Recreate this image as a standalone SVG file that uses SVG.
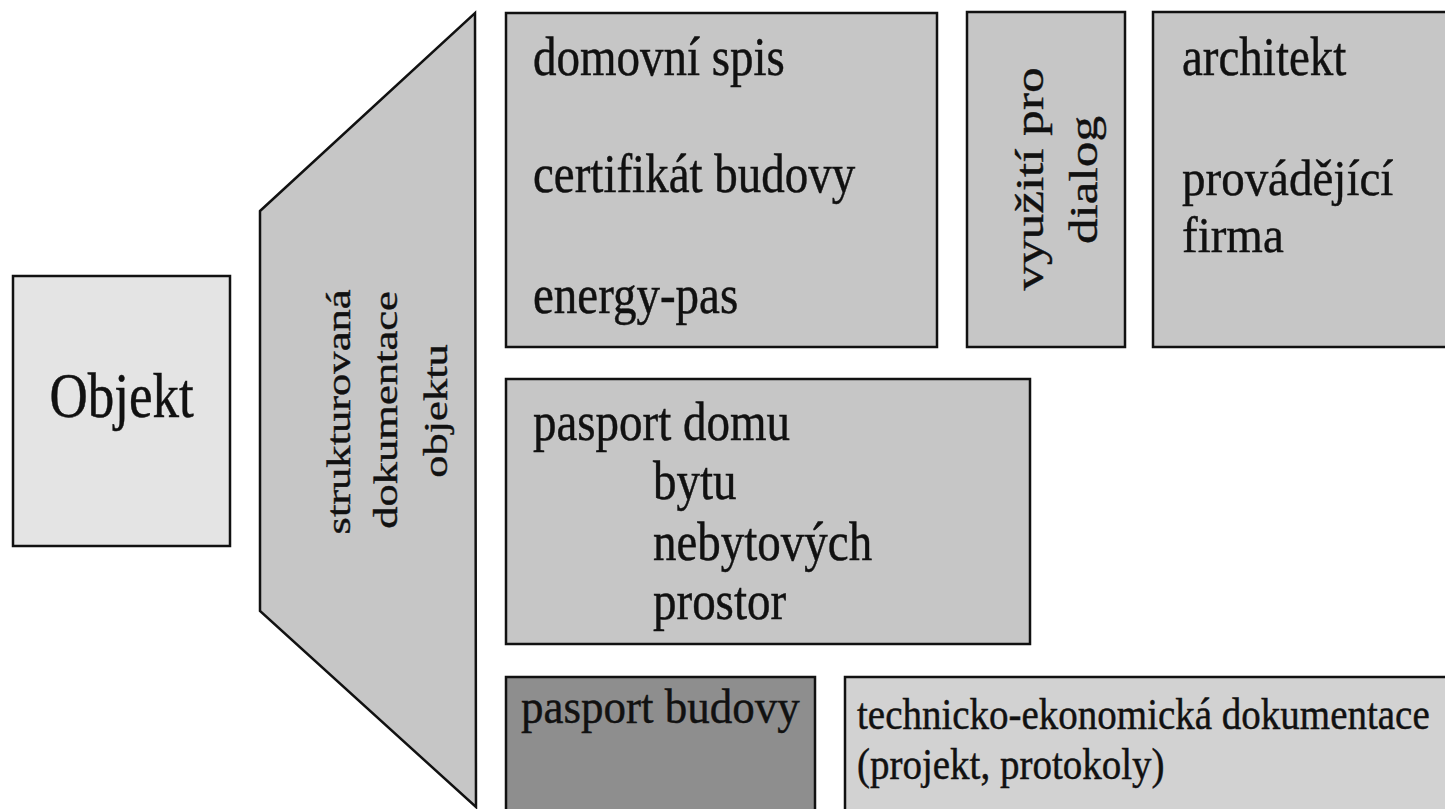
<svg xmlns="http://www.w3.org/2000/svg" width="1445" height="809" viewBox="0 0 1445 809">
<style>
.box{stroke:#111;stroke-width:2.5;}
.mid{fill:#c6c6c6;}
.light{fill:#e4e4e4;}
.tech{fill:#d2d2d2;}
.dark{fill:#8e8e8e;}
text{font-family:"Liberation Serif","Times New Roman",serif;fill:#111;stroke:#111;stroke-width:0.4;}
.t47{font-size:47px;}
</style>
<rect width="1445" height="809" fill="#fff"/>
<g id="objekt">
<rect class="box light" x="13" y="276" width="217" height="270"/>
<text transform="translate(121.5,417) scale(1,1.19)" font-size="53" text-anchor="middle">Objekt</text>
</g>
<g id="strukturovana-dokumentace">
<polygon class="box mid" points="260,211 475,13 476,807 260,611"/>
<text transform="translate(350,412) rotate(-90) scale(1.35,1)" font-size="33" text-anchor="middle">strukturovaná</text>
<text transform="translate(397,410) rotate(-90) scale(1.35,1)" font-size="33" text-anchor="middle">dokumentace</text>
<text transform="translate(447,411) rotate(-90) scale(1.35,1)" font-size="33" text-anchor="middle">objektu</text>
</g>
<g id="domovni-spis">
<rect class="box mid" x="506" y="13" width="431" height="334"/>
<text class="t47" transform="translate(533,75) scale(1,1.15)">domovní spis</text>
<text class="t47" transform="translate(533,192) scale(1,1.15)">certifikát budovy</text>
<text class="t47" transform="translate(533,313) scale(1,1.15)">energy-pas</text>
</g>
<g id="vyuziti-pro-dialog">
<rect class="box mid" x="967" y="12" width="158" height="335"/>
<text transform="translate(1043,179) rotate(-90) scale(1.28,1)" font-size="40" text-anchor="middle">využití pro</text>
<text transform="translate(1097,180) rotate(-90) scale(1.28,1)" font-size="40" text-anchor="middle">dialog</text>
</g>
<g id="architekt">
<rect class="box mid" x="1153" y="12" width="300" height="335"/>
<text class="t47" transform="translate(1182,75) scale(1,1.15)">architekt</text>
<text class="t47" transform="translate(1182,195) scale(1,1.1)">provádějící</text>
<text class="t47" transform="translate(1182,252) scale(1,1.1)">firma</text>
</g>
<g id="pasport-domu">
<rect class="box mid" x="506" y="379" width="524" height="265"/>
<text class="t47" transform="translate(533,440) scale(1,1.15)">pasport domu</text>
<text class="t47" transform="translate(653,499) scale(1,1.15)">bytu</text>
<text class="t47" transform="translate(653,560) scale(1,1.15)">nebytových</text>
<text class="t47" transform="translate(653,619) scale(1,1.15)">prostor</text>
</g>
<g id="pasport-budovy">
<rect class="box dark" x="506" y="677" width="309" height="150"/>
<text transform="translate(521,723) scale(1,1.1)" font-size="45">pasport budovy</text>
</g>
<g id="technicko-ekonomicka-dokumentace">
<rect class="box tech" x="845" y="677" width="620" height="150"/>
<text transform="translate(857,729) scale(1,1.15)" font-size="39">technicko-ekonomická dokumentace</text>
<text transform="translate(857,779) scale(1,1.15)" font-size="39">(projekt, protokoly)</text>
</g>
<g id="connectors"/>
</svg>
